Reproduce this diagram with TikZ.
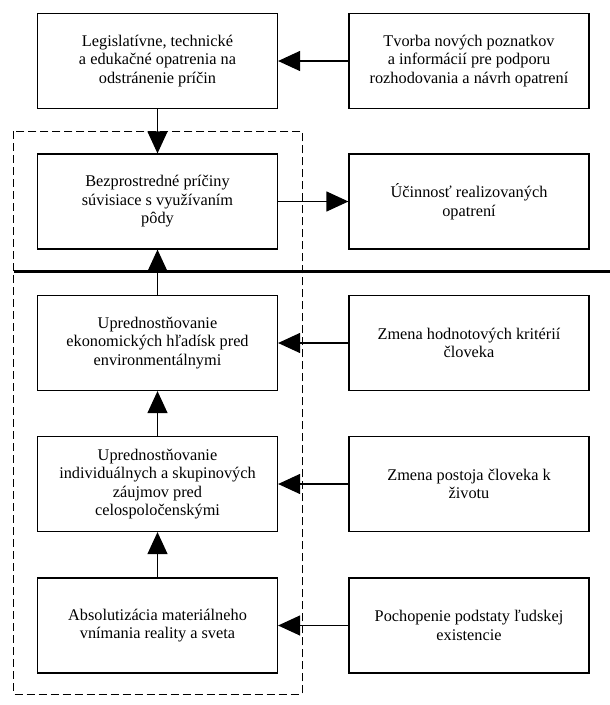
\documentclass[tikz,border=0pt]{standalone}
\usepackage{fontspec}
\setmainfont{Liberation Serif}
\usetikzlibrary{arrows.meta}

\begin{document}
\begin{tikzpicture}[x=1pt, y=-1pt,
  box/.style={draw, line width=1.2pt, minimum width=240pt, minimum height=95pt,
    align=center, inner sep=2pt, font=\fontsize{16.3}{18.5}\selectfont},
  link/.style={-{Triangle[length=22pt, width=20pt]}, line width=1.2pt},
  frame/.style={line width=1pt, dash pattern=on 8pt off 4pt}]

  \useasboundingbox (0,0) rectangle (610,705);

  \newcommand\XL{157.5}
  \newcommand\XR{469}
  \newcommand\YA{61}
  \newcommand\YB{201.5}
  \newcommand\YC{343}
  \newcommand\YD{484}
  \newcommand\YE{625.5}

  % dashed frame and the dividing line
  \draw[frame] (13.6, 131) rectangle (302, 694);
  \draw[line width=3.3pt] (13.6, 271.7) -- (610, 271.7);

  % left column
  \node[box] (measures) at (\XL, \YA) {Legislatívne, technické\\a edukačné opatrenia na\\odstránenie príčin};
  \node[box] (causes) at (\XL, \YB) {Bezprostredné príčiny\\súvisiace s využívaním\\pôdy};
  \node[box] (economy) at (\XL, \YC) {Uprednostňovanie\\ekonomických hľadísk pred\\environmentálnymi};
  \node[box] (groups) at (\XL, \YD) {Uprednostňovanie\\individuálnych a skupinových\\záujmov pred\\celospoločenskými};
  \node[box] (matter) at (\XL, \YE) {Absolutizácia materiálneho\\vnímania reality a sveta};

  % right column
  \node[box] (knowledge) at (\XR, \YA) {Tvorba nových poznatkov\\a informácií pre podporu\\rozhodovania a návrh opatrení};
  \node[box] (effect) at (\XR, \YB) {Účinnosť realizovaných\\opatrení};
  \node[box] (values) at (\XR, \YC) {Zmena hodnotových kritérií\\človeka};
  \node[box] (attitude) at (\XR, \YD) {Zmena postoja človeka k\\životu};
  \node[box] (essence) at (\XR, \YE) {Pochopenie podstaty ľudskej\\existencie};

  % vertical links
  \draw[link] (measures.south) -- (causes.north);
  \draw[link] (economy.north) -- (causes.south);
  \draw[link] (groups.north) -- (economy.south);
  \draw[link] (matter.north) -- (groups.south);

  % horizontal links
  \draw[link] (knowledge.west) -- (measures.east);
  \draw[link] (causes.east) -- (effect.west);
  \draw[link] (values.west) -- (economy.east);
  \draw[link] (attitude.west) -- (groups.east);
  \draw[link] (essence.west) -- (matter.east);

\end{tikzpicture}
\end{document}
